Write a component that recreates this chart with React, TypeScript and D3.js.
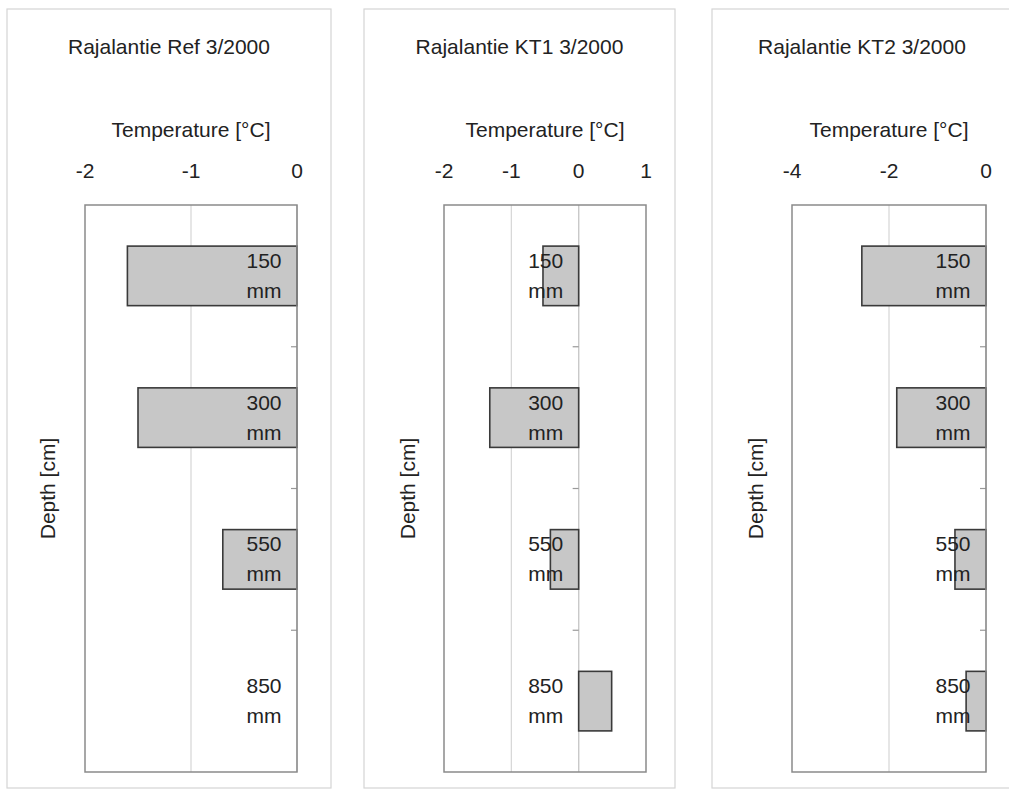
import React from "react";
import * as d3 from "d3";

// Soil temperature at four depths, three measurement sites, March 2000
const depths = ["150", "300", "550", "850"];
const refTemps = [-1.6, -1.5, -0.7, 0];
const kt1Temps = [-0.53, -1.32, -0.42, 0.49];
const kt2Temps = [-2.56, -1.84, -0.64, -0.41];

const panelTitles = ["Rajalantie Ref 3/2000", "Rajalantie KT1 3/2000", "Rajalantie KT2 3/2000"];
const refTicks = [-2, -1, 0];
const kt1Ticks = [-2, -1, 0, 1];
const kt2Ticks = [-4, -2, 0];

const xAxisTitle = "Temperature [\u00B0C]";
const yAxisTitle = "Depth [cm]";
const unitLabel = "mm";

const W = 1009;
const H = 792;
const FONT = "'Liberation Sans', Arial, sans-serif";
const FS = 21;

type PanelLayout = {
  frameX0: number;
  frameX1: number;
  plotX0: number;
  plotX1: number;
  depthLabelX: number;
};

const layouts: PanelLayout[] = [
  { frameX0: 7, frameX1: 331, plotX0: 85, plotX1: 297, depthLabelX: 48 },
  { frameX0: 364, frameX1: 675, plotX0: 444, plotX1: 646, depthLabelX: 408 },
  { frameX0: 712, frameX1: 1012, plotX0: 792, plotX1: 986, depthLabelX: 756 },
];

const frameY0 = 9;
const frameY1 = 788;
const plotY0 = 205;
const plotY1 = 772;

const panelValues = [refTemps, kt1Temps, kt2Temps];
const panelTicks = [refTicks, kt1Ticks, kt2Ticks];

function Panel({ idx }: { idx: number }) {
  const L = layouts[idx];
  const values = panelValues[idx];
  const ticks = panelTicks[idx];
  const x = d3
    .scaleLinear()
    .domain([ticks[0], ticks[ticks.length - 1]])
    .range([L.plotX0, L.plotX1]);
  const y = d3
    .scaleBand<string>()
    .domain(depths)
    .range([plotY0, plotY1])
    .paddingInner(0.58)
    .paddingOuter(0.29);
  const step = y.step();
  const x0 = x(0);
  const frameCx = (L.frameX0 + L.frameX1) / 2;
  const plotCx = (L.plotX0 + L.plotX1) / 2;
  const plotCy = (plotY0 + plotY1) / 2;

  return (
    <g>
      {/* chart frame */}
      <rect
        x={L.frameX0}
        y={frameY0}
        width={L.frameX1 - L.frameX0}
        height={frameY1 - frameY0}
        fill="#fff"
        stroke="#d4d4d4"
        strokeWidth={1.2}
      />
      {/* title */}
      <text x={frameCx} y={54} textAnchor="middle" fontFamily={FONT} fontSize={FS} fill="#222">
        {panelTitles[idx]}
      </text>
      {/* x axis title */}
      <text x={plotCx} y={137} textAnchor="middle" fontFamily={FONT} fontSize={FS} fill="#222">
        {xAxisTitle}
      </text>
      {/* x tick labels (axis on top) */}
      {ticks.map((t) => (
        <text
          key={t}
          x={x(t)}
          y={178}
          textAnchor="middle"
          fontFamily={FONT}
          fontSize={FS}
          fill="#222"
        >
          {t}
        </text>
      ))}
      {/* y axis title */}
      <text
        transform={`translate(${L.depthLabelX},${plotCy}) rotate(-90)`}
        textAnchor="middle"
        dy="0.35em"
        fontFamily={FONT}
        fontSize={FS}
        fill="#222"
      >
        {yAxisTitle}
      </text>
      {/* gridlines */}
      {ticks
        .filter((t) => t !== ticks[0] && t !== ticks[ticks.length - 1])
        .map((t) => (
          <line
            key={t}
            x1={x(t)}
            x2={x(t)}
            y1={plotY0}
            y2={plotY1}
            stroke="#d6d6d6"
            strokeWidth={1.2}
          />
        ))}
      {/* category axis at zero with tick marks between categories */}
      <line x1={x0} x2={x0} y1={plotY0} y2={plotY1} stroke="#c8c8c8" strokeWidth={1.2} />
      {depths.slice(1).map((d) => {
        const yy = (y(d) as number) - (step - y.bandwidth()) / 2;
        return (
          <line key={d} x1={x0 - 6} x2={x0} y1={yy} y2={yy} stroke="#999" strokeWidth={1.2} />
        );
      })}
      {/* bars */}
      {depths.map((d, i) => {
        const v = values[i];
        if (v === 0) return null;
        const xa = Math.min(x(v), x0);
        const xb = Math.max(x(v), x0);
        return (
          <rect
            key={d}
            x={xa}
            y={y(d)}
            width={xb - xa}
            height={y.bandwidth()}
            fill="#c7c7c7"
            stroke="#3a3a3a"
            strokeWidth={1.6}
          />
        );
      })}
      {/* plot area border */}
      <rect
        x={L.plotX0}
        y={plotY0}
        width={L.plotX1 - L.plotX0}
        height={plotY1 - plotY0}
        fill="none"
        stroke="#8a8a8a"
        strokeWidth={1.5}
      />
      {/* category labels */}
      {depths.map((d) => {
        const cy = (y(d) as number) + y.bandwidth() / 2;
        return (
          <text
            key={d}
            x={x0 - 33}
            y={cy}
            textAnchor="middle"
            fontFamily={FONT}
            fontSize={FS}
            fill="#222"
          >
            <tspan x={x0 - 33} dy={-8}>
              {d}
            </tspan>
            <tspan x={x0 - 33} dy={30}>
              {unitLabel}
            </tspan>
          </text>
        );
      })}
    </g>
  );
}

export default function App() {
  return (
    <div style={{ position: "absolute", left: 0, top: 0 }}>
      <svg width={W} height={H} style={{ display: "block", background: "#fff" }}>
        {panelTitles.map((_, i) => (
          <Panel key={i} idx={i} />
        ))}
      </svg>
    </div>
  );
}
